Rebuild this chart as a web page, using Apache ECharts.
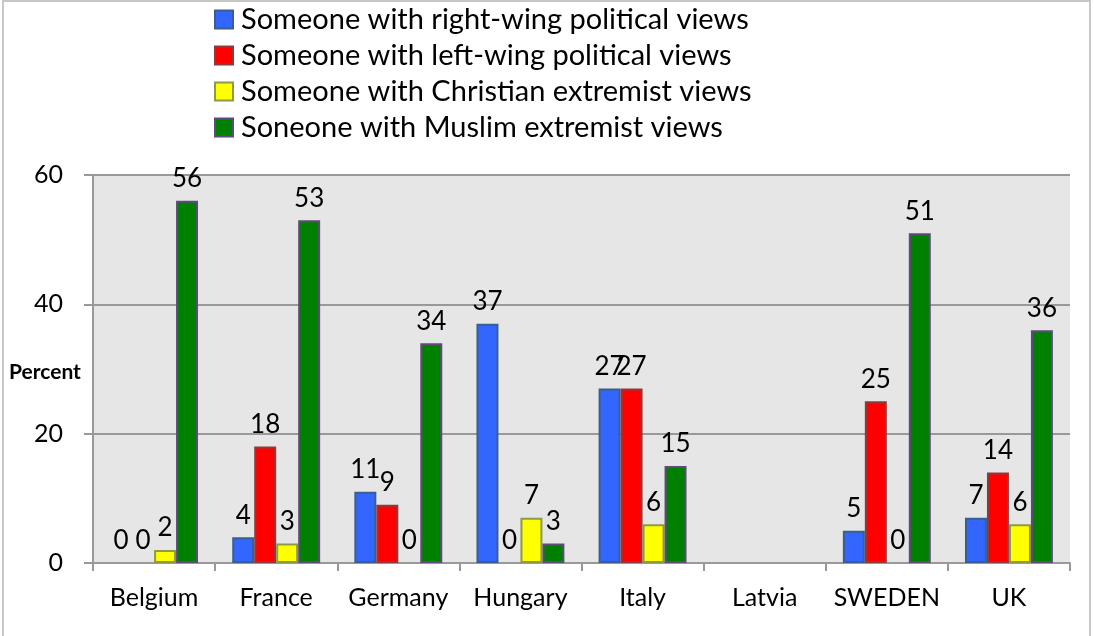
<!DOCTYPE html>
<html><head><meta charset="utf-8">
<script src="https://cdn.jsdelivr.net/npm/echarts@6/dist/echarts.min.js"></script>
<style>html,body{margin:0;padding:0;background:#fff}#c{width:1094px;height:636px}</style>
</head><body><div id="c"></div>
<script>
const categories = ['Belgium','France','Germany','Hungary','Italy','Latvia','SWEDEN','UK'];
const seriesNames = ['Someone with right-wing political views','Someone with left-wing political views','Someone with Christian extremist views','Soneone with Muslim extremist views'];
const rightWing = [0, 4, 11, 37, 27, null, 5, 7];
const leftWing = [0, 18, 9, 0, 27, null, 25, 14];
const christian = [2, 3, 0, 7, 6, null, 0, 6];
const muslim = [56, 53, 34, 3, 15, null, 51, 36];
const yTicks = [0, 20, 40, 60];

const fills = ['#3366FF','#FF0000','#FFFF00','#008000'];
const borders = ['#3A5F8E','#8E3A3A','#8C9A4A','#604A7B'];
const data = [rightWing, leftWing, christian, muslim];
const font = 'Lato, "Open Sans", sans-serif';

const chart = echarts.init(document.getElementById('c'));
chart.setOption({
  animation: false,
  backgroundColor: '#fff',
  grid: {left: 93, right: 24, top: 175, bottom: 73, show: true, backgroundColor: '#E6E6E6', borderWidth: 0},
  legend: {
    orient: 'vertical', left: 209, top: 0, itemWidth: 18, itemHeight: 18, itemGap: 7, icon: 'rect',
    textStyle: {fontFamily: font, fontSize: 29, color: '#000', padding: [0,0,0,3]},
    data: seriesNames
  },
  xAxis: {
    type: 'category', data: categories,
    axisLine: {lineStyle: {color: '#999', width: 2}},
    axisTick: {show: true, interval: 0, length: 8, lineStyle: {color: '#999', width: 2}},
    axisLabel: {fontFamily: font, fontSize: 25, color: '#000', margin: 22, interval: 0}
  },
  yAxis: {
    type: 'value', min: yTicks[0], max: yTicks[yTicks.length-1], interval: 20,
    axisLine: {show: true, lineStyle: {color: '#999', width: 2}},
    axisTick: {show: true, length: 9, lineStyle: {color: '#999', width: 2}},
    splitLine: {lineStyle: {color: '#999', width: 2}},
    axisLabel: {fontFamily: font, fontSize: 25, color: '#000', margin: 30}
  },
  graphic: [
    {type: 'rect', shape: {x: 3, y: 1, width: 1087, height: 660}, style: {fill: 'none', stroke: '#C8C8C8', lineWidth: 2}, z: -1},
    {type: 'text', left: 9, top: 362, style: {text: 'Percent', font: 'bold 21px ' + font, fill: '#000'}}
  ],
  series: data.map((d, i) => ({
    name: seriesNames[i], type: 'bar',
    data: d.map(v => v === 0 ? {value: 0, itemStyle: {borderWidth: 0}} : v),
    barGap: '0%', barCategoryGap: '28%',
    itemStyle: {color: fills[i], borderColor: borders[i], borderWidth: 2},
    label: {show: true, position: 'top', distance: 9, fontFamily: font, fontSize: 26, color: '#000'}
  }))
});
</script></body></html>
